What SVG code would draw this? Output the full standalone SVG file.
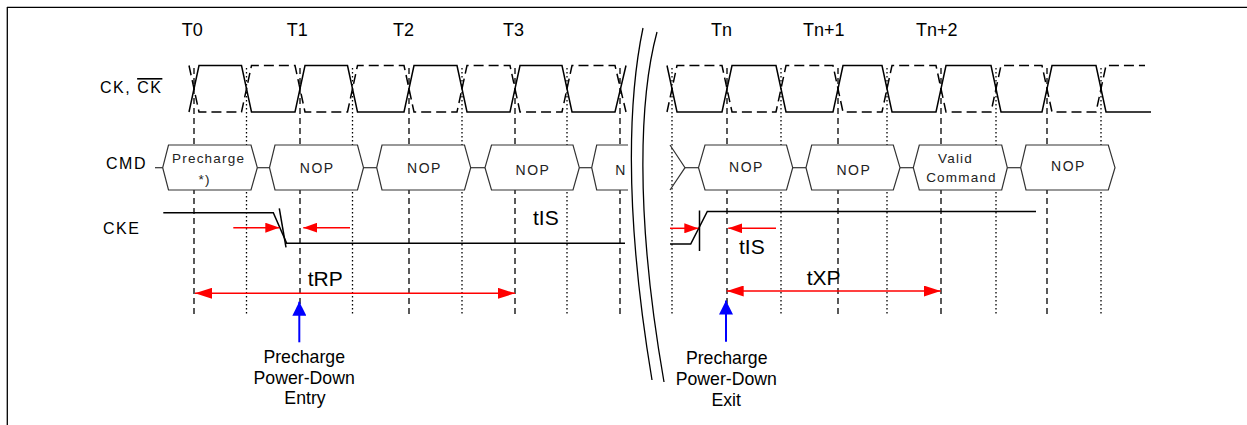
<svg xmlns="http://www.w3.org/2000/svg" width="1247" height="425" viewBox="0 0 1247 425">
<style>
  text { font-family: "Liberation Sans", Arial, sans-serif; fill: #000; }
  .sig { font-size: 16px; letter-spacing: 1.5px; }
  .tlab { font-size: 18px; }
  .cmd { font-size: 14px; letter-spacing: 1.5px; text-anchor: middle; fill: #222; }
  .cmds { font-size: 13.5px; letter-spacing: 1.2px; text-anchor: middle; fill: #222; }
  .tim { font-size: 21px; }
  .note { font-size: 17.7px; text-anchor: middle; }
  .ck { fill: none; stroke: #000; stroke-width: 1.5; }
  .ckb { fill: none; stroke: #000; stroke-width: 1.5; stroke-dasharray: 10 5; }
  .vdash { stroke: #000; stroke-width: 1.3; stroke-dasharray: 6 4; }
  .vdot { stroke: #000; stroke-width: 1.3; stroke-dasharray: 1.5 2.5; }
  .hex { fill: #fff; stroke: #333; stroke-width: 1.2; }
  .hexo { fill: #fff; stroke: #333; stroke-width: 1.2; }
  .bus { stroke: #333; stroke-width: 1.2; }
  .cke { fill: none; stroke: #000; stroke-width: 1.5; }
  .red { stroke: #ff0000; stroke-width: 1.5; fill: none; }
  .blue { stroke: #0000ff; stroke-width: 2; fill: none; }
  .brk { fill: none; stroke: #000; stroke-width: 1.3; }
</style>
<defs>
  <marker id="rBig" markerUnits="userSpaceOnUse" markerWidth="17" markerHeight="11" refX="17" refY="5.5" orient="auto-start-reverse">
    <path d="M0,0 L17,5.5 L0,11 z" fill="#ff0000"/>
  </marker>
  <marker id="rSmall" markerUnits="userSpaceOnUse" markerWidth="14" markerHeight="10" refX="14" refY="5" orient="auto">
    <path d="M0,0 L14,5 L0,10 z" fill="#ff0000"/>
  </marker>
  <marker id="bHead" markerUnits="userSpaceOnUse" markerWidth="14" markerHeight="14" refX="14" refY="7" orient="auto">
    <path d="M0,0 L14,7 L0,14 z" fill="#0000ff"/>
  </marker>
  <linearGradient id="fade" x1="0" y1="0" x2="1" y2="0">
    <stop offset="0" stop-color="#444"/>
    <stop offset="1" stop-color="#ddd"/>
  </linearGradient>
</defs>

<rect width="1247" height="425" fill="#fff"/>
<g id="frame">
  <line x1="7" y1="7.3" x2="1247" y2="7.3" stroke="#000" stroke-width="1.3"/>
  <line x1="7.3" y1="7" x2="7.3" y2="425" stroke="#000" stroke-width="1.3"/>
</g>

<g id="labels">
  <text class="sig" x="100" y="93">CK, <tspan style="text-decoration:overline">CK</tspan></text>
  <text class="sig" x="106" y="169.3">CMD</text>
  <text class="sig" x="103" y="234">CKE</text>
  <text class="tlab" x="181.7" y="35.7">T0</text>
  <text class="tlab" x="286.7" y="35.7">T1</text>
  <text class="tlab" x="393" y="35.7">T2</text>
  <text class="tlab" x="503" y="35.7">T3</text>
  <text class="tlab" x="711" y="35.7">Tn</text>
  <text class="tlab" x="803" y="35.7">Tn+1</text>
  <text class="tlab" x="916" y="35.7">Tn+2</text>
</g>

<g id="gridlines">
  <line class="vdash" x1="194" y1="68" x2="194" y2="314"/>
  <line class="vdot" x1="246.5" y1="68" x2="246.5" y2="314"/>
  <line class="vdash" x1="300" y1="68" x2="300" y2="314"/>
  <line class="vdot" x1="352.5" y1="68" x2="352.5" y2="314"/>
  <line class="vdash" x1="409" y1="68" x2="409" y2="314"/>
  <line class="vdot" x1="462" y1="68" x2="462" y2="314"/>
  <line class="vdash" x1="515" y1="68" x2="515" y2="314"/>
  <line class="vdot" x1="567" y1="68" x2="567" y2="314"/>
  <line class="vdash" x1="620" y1="68" x2="620" y2="314"/>
  <line class="vdot" x1="672" y1="68" x2="672" y2="314"/>
  <line class="vdash" x1="727" y1="68" x2="727" y2="314"/>
  <line class="vdot" x1="781" y1="68" x2="781" y2="314"/>
  <line class="vdash" x1="838" y1="68" x2="838" y2="314"/>
  <line class="vdot" x1="887" y1="68" x2="887" y2="314"/>
  <line class="vdash" x1="941" y1="68" x2="941" y2="314"/>
  <line class="vdot" x1="996" y1="68" x2="996" y2="314"/>
  <line class="vdash" x1="1047" y1="68" x2="1047" y2="314"/>
  <line class="vdot" x1="1101" y1="68" x2="1101" y2="314"/>
</g>

<g id="clock">
  <path class="ck" d="M189,112 L199,65.5 H241.5 L251.5,112 H295 L305,65.5 H347.5 L357.5,112 H404 L414,65.5 H457 L467,112 H510 L520,65.5 H562 L572,112 H615 L626,65.5"/>
  <path class="ckb" d="M189,65.5 L199,112 H241.5 L251.5,65.5 H295 L305,112 H347.5 L357.5,65.5 H404 L414,112 H457 L467,65.5 H510 L520,112 H562 L572,65.5 H615 L626,112"/>
  <path class="ck" d="M667,65.5 L677,112 H722 L732,65.5 H776 L786,112 H833 L843,65.5 H882 L892,112 H936 L946,65.5 H991 L1001,112 H1042 L1052,65.5 H1096 L1106,112 H1151"/>
  <path class="ckb" d="M667,112 L677,65.5 H722 L732,112 H776 L786,65.5 H833 L843,112 H882 L892,65.5 H936 L946,112 H991 L1001,65.5 H1042 L1052,112 H1096 L1106,65.5 H1145"/>
</g>

<g id="cmd-bus">
  <line class="bus" x1="155" y1="167.7" x2="163" y2="167.7"/>
  <line class="bus" x1="257" y1="167.7" x2="270" y2="167.7"/>
  <line class="bus" x1="363" y1="167.7" x2="377" y2="167.7"/>
  <line class="bus" x1="470" y1="167.7" x2="485" y2="167.7"/>
  <line class="bus" x1="579" y1="167.7" x2="592" y2="167.7"/>
  <line class="bus" x1="685" y1="167.7" x2="698.5" y2="167.7"/>
  <line class="bus" x1="792.5" y1="167.7" x2="806" y2="167.7"/>
  <line class="bus" x1="900" y1="167.7" x2="913.5" y2="167.7"/>
  <line class="bus" x1="1007" y1="167.7" x2="1021" y2="167.7"/>
  <line x1="1115" y1="167.7" x2="1141" y2="167.7" stroke="url(#fade)" stroke-width="1.2"/>
</g>

<g id="cmd-precharge">
  <polygon class="hex" points="162.7,167.7 168.5,145 251,145 257.3,167.7 251,190 168.5,190"/>
  <text class="cmds" x="208.6" y="163.3">Precharge</text>
  <text class="cmds" x="204.6" y="183.5">*)</text>
</g>
<g id="cmd-nop1">
  <polygon class="hex" points="269.5,167.7 275,145 357.5,145 363.5,167.7 357.5,190 275,190"/>
  <text class="cmd" x="317.2" y="172.7">NOP</text>
</g>
<g id="cmd-nop2">
  <polygon class="hex" points="376.7,167.7 382,145 464.5,145 470.7,167.7 464.5,190 382,190"/>
  <text class="cmd" x="424.5" y="173.3">NOP</text>
</g>
<g id="cmd-nop3">
  <polygon class="hex" points="485,167.7 491.5,145 573,145 579.3,167.7 573,190 491.5,190"/>
  <text class="cmd" x="533" y="175">NOP</text>
</g>
<g id="cmd-n-partial">
  <polygon class="hex" points="628,145 596.7,145 591.7,167.7 596.7,190 628,190" style="stroke:none"/>
  <polyline class="hexo" style="fill:none" points="628,145 596.7,145 591.7,167.7 596.7,190 628,190"/>
  <text class="cmd" x="621" y="175">N</text>
</g>
<g id="cmd-partial-right">
  <polyline class="hexo" style="fill:none" points="670,145 685,167.7 670,190"/>
</g>
<g id="cmd-nop-tn">
  <polygon class="hex" points="698.5,167.7 705,145 786.5,145 792.7,167.7 786.5,190 705,190"/>
  <text class="cmd" x="746.5" y="171.7">NOP</text>
</g>
<g id="cmd-nop-tn1">
  <polygon class="hex" points="806,167.7 811.7,145 893.3,145 900,167.7 893.3,190 811.7,190"/>
  <text class="cmd" x="853.8" y="175">NOP</text>
</g>
<g id="cmd-valid">
  <polygon class="hex" points="913.3,167.7 919.3,145 1001.7,145 1007.3,167.7 1001.7,190 919.3,190"/>
  <text class="cmds" x="955.5" y="163.3">Valid</text>
  <text class="cmds" x="961.5" y="181.7">Command</text>
</g>
<g id="cmd-nop-last">
  <polygon class="hex" points="1020.7,167.7 1026,145 1108.3,145 1115,167.7 1108.3,190 1026,190"/>
  <text class="cmd" x="1068.5" y="171">NOP</text>
</g>

<g id="cke">
  <polyline class="cke" points="163.3,212.7 273.3,212.7 286.7,243.3 625,243.3"/>
  <line class="cke" x1="279.3" y1="208.3" x2="286" y2="247.3"/>
  <polyline class="cke" points="670,244 690.7,244 707.3,211.5 1036,211.5"/>
  <line class="cke" x1="699.5" y1="210.5" x2="699.5" y2="251"/>
</g>

<g id="break">
  <path class="brk" d="M643,28 C630,90 622,200 652,380"/>
  <path class="brk" d="M657,32 C640,95 634,210 664,382"/>
</g>

<g id="connectors">
  <line class="red" x1="233.3" y1="227.7" x2="279.3" y2="227.7" marker-end="url(#rSmall)"/>
  <line class="red" x1="350" y1="227.7" x2="303.3" y2="227.7" marker-end="url(#rSmall)"/>
  <line class="red" x1="195" y1="293.3" x2="515" y2="293.3" marker-start="url(#rBig)" marker-end="url(#rBig)"/>
  <line class="red" x1="670" y1="228.3" x2="698.3" y2="228.3" marker-end="url(#rSmall)"/>
  <line class="red" x1="776" y1="228.3" x2="728.3" y2="228.3" marker-end="url(#rSmall)"/>
  <line class="red" x1="726.7" y1="291" x2="940.7" y2="291" marker-start="url(#rBig)" marker-end="url(#rBig)"/>
  <line class="blue" x1="299.3" y1="342.3" x2="299.3" y2="301.7" marker-end="url(#bHead)"/>
  <line class="blue" x1="726" y1="341.7" x2="726" y2="300.5" marker-end="url(#bHead)"/>
</g>

<g id="timing-labels">
  <text class="tim" x="533" y="225">tIS</text>
  <text class="tim" x="307.7" y="285.7">tRP</text>
  <text class="tim" x="739" y="254">tIS</text>
  <text class="tim" x="806.7" y="285">tXP</text>
</g>

<g id="note-entry">
  <text class="note" x="304.2" y="363">Precharge</text>
  <text class="note" x="304.2" y="384.3">Power-Down</text>
  <text class="note" x="305" y="403.5">Entry</text>
</g>
<g id="note-exit">
  <text class="note" x="726.7" y="364">Precharge</text>
  <text class="note" x="726.3" y="385">Power-Down</text>
  <text class="note" x="726.2" y="406">Exit</text>
</g>
</svg>
